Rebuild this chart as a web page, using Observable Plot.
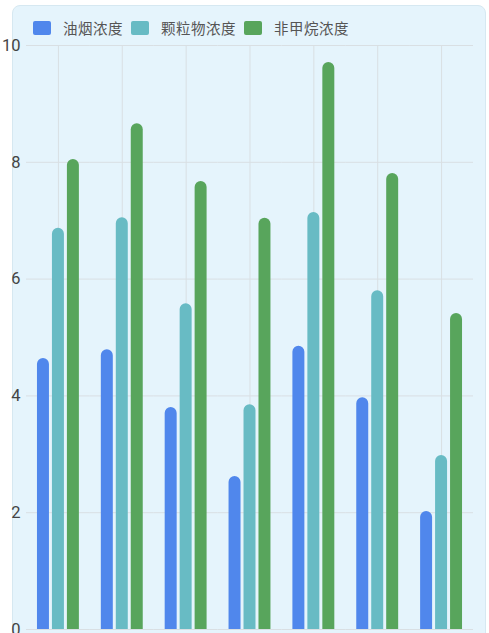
<!DOCTYPE html>
<html>
<head>
<meta charset="utf-8">
<script src="https://cdn.jsdelivr.net/npm/d3@7"></script>
<script src="https://cdn.jsdelivr.net/npm/@observablehq/plot@0.6"></script>
<style>
  html, body { margin: 0; padding: 0; background: #fff; }
  #wrap { position: relative; width: 489px; height: 633px; overflow: hidden; font-family: Roboto, "Noto Sans CJK SC", sans-serif; }
  #panel { position: absolute; left: 12px; top: 5px; width: 474px; height: 660px; background: #e5f4fc; border: 1px solid #d6e8f1; border-radius: 8px; box-sizing: border-box; }
  #legend { position: absolute; left: 33px; top: 17px; display: flex; align-items: center; font-family: "Noto Sans CJK SC", sans-serif; font-size: 14.5px; letter-spacing: 0.5px; color: #555; }
  #legend .item { display: flex; align-items: center; margin-right: 8px; }
  #legend .sw { width: 18px; height: 14px; border-radius: 2px; margin-right: 12px; }
  #chart { position: absolute; left: 0; top: 0; }
</style>
</head>
<body>
<div id="wrap">
  <div id="panel"></div>
  <div id="legend"></div>
  <div id="chart"></div>
</div>
<script>
const categories = ["1", "2", "3", "4", "5", "6", "7"];
const seriesNames = ["油烟浓度", "颗粒物浓度", "非甲烷浓度"];
const oilFume = [4.64, 4.79, 3.80, 2.62, 4.85, 3.97, 2.02];
const particulate = [6.87, 7.05, 5.58, 3.85, 7.14, 5.80, 2.98];
const nonMethane = [8.05, 8.66, 7.67, 7.04, 9.71, 7.81, 5.41];
const yTicks = [0, 2, 4, 6, 8, 10];
const colors = ["#5087ec", "#68bbc4", "#58a55c"];

const seriesValues = [oilFume, particulate, nonMethane];
const data = categories.flatMap((c, i) =>
  seriesNames.map((s, j) => ({ category: c, series: s, value: seriesValues[j][i] }))
);

// legend
const legend = document.getElementById("legend");
seriesNames.forEach((s, j) => {
  const item = document.createElement("div");
  item.className = "item";
  const sw = document.createElement("div");
  sw.className = "sw";
  sw.style.background = colors[j];
  const t = document.createElement("span");
  t.textContent = s;
  item.appendChild(sw);
  item.appendChild(t);
  legend.appendChild(item);
});

const chart = Plot.plot({
  width: 489,
  height: 633,
  marginLeft: 26,
  marginRight: 16,
  marginTop: 45,
  marginBottom: 4,
  style: { background: "transparent", fontFamily: "Roboto, sans-serif", fontSize: "16px", color: "#444", overflow: "visible" },
  fx: { domain: categories, padding: 0, round: false, axis: null },
  x: { domain: seriesNames, paddingInner: 0.2, paddingOuter: 0.733, round: false, axis: null },
  y: { domain: [0, 10], axis: null },
  color: { domain: seriesNames, range: colors },
  marks: [
    Plot.gridY(yTicks, { stroke: "#d9dfe3", strokeOpacity: 1 }),
    Plot.gridFx({ stroke: "#d9dfe3", strokeOpacity: 1 }),
    Plot.axisY(yTicks, { facetAnchor: "left", tickSize: 0, tickPadding: 6, fontSize: 16.5, fill: "#444", anchor: "left", label: null, tickFormat: d => String(d) }),
    Plot.barY(data, { fx: "category", x: "series", y: "value", fill: "series", ry1: 6 })
  ]
});
document.getElementById("chart").appendChild(chart);
</script>
</body>
</html>
